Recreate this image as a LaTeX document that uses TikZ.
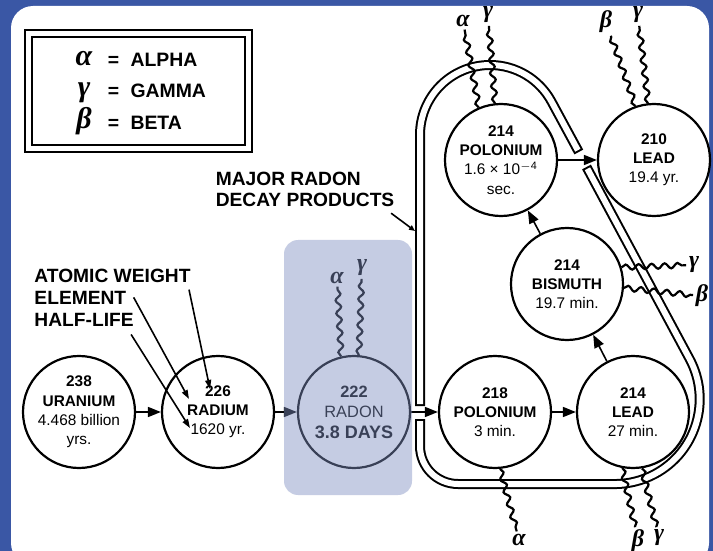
\documentclass[tikz,border=0pt]{standalone}
\usepackage{fontspec}
\setmainfont{Liberation Sans}
\newfontfamily\greekfont{Liberation Serif}
\usetikzlibrary{arrows.meta,decorations.pathmorphing}

\definecolor{frameblue}{RGB}{58,87,165}
\definecolor{shadeblue}{RGB}{128,144,193}

\begin{document}
\begin{tikzpicture}[
        x=0.5pt, y=-0.5pt,
        >={Triangle[length=6.5pt,width=5pt]}, line width=0.8pt,
        nuclide/.style={draw, circle, line width=1.1pt, minimum size=56pt, inner sep=0pt,
                align=center, font=\fontsize{7.7}{9.6}\selectfont},
        wave/.style={line width=1.1pt, decorate,
                decoration={snake, amplitude=1.3pt, segment length=6.5pt}},
        ray/.style={font=\fontsize{12}{12}\selectfont\greekfont\bfseries\itshape, inner sep=1pt},
        keysym/.style={font=\fontsize{15}{15}\selectfont\greekfont\bfseries\itshape, anchor=base, inner sep=0pt},
        keytext/.style={font=\fontsize{9.7}{11}\selectfont\bfseries, anchor=base west, inner sep=0pt},
        note/.style={font=\fontsize{9.6}{11.5}\selectfont\bfseries, anchor=base west},
        pointer/.style={-{Triangle[length=4.5pt,width=3pt]}, line width=0.8pt},
        pipe/.style={line width=5pt,
                postaction={draw=white, line width=3pt, shorten <=1pt, shorten >=1pt}}
    ]
    \useasboundingbox (0,0) rectangle (713,551);
    \fill[frameblue] (0,0) rectangle (713,551);
    \fill[white, rounded corners=11pt] (11,6) rectangle (709,565);

    % key
    \draw[line width=1pt] (25,30) rectangle (252,152);
    \draw[line width=1pt] (32,37) rectangle (245,145);
    \node[keysym] (keya) at (84,66) {α};
    \node[keysym] (keyg) at (84,97) {γ};
    \node[keysym] (keyb) at (84,129) {β};
    \node[keytext] (keyat) at (107,67) {=\hspace{3pt} ALPHA};
    \node[keytext] (keygt) at (107,98) {=\hspace{3pt} GAMMA};
    \node[keytext] (keybt) at (107,130) {=\hspace{3pt} BETA};

    % decay chain
    \node[nuclide] (ura) at (79,412) {\textbf{238}\\\textbf{URANIUM}\\4.468 billion\\yrs.};
    \node[nuclide] (rad) at (218,412) {\textbf{226}\\\textbf{RADIUM}\\1620 yr.};
    \node[nuclide, font=\fontsize{8.2}{10.3}\selectfont] (rn) at (354,412)
        {\textbf{222}\\RADON\\\fontsize{9}{10}\selectfont\textbf{3.8 DAYS}};
    \node[nuclide] (po218) at (495,412) {\textbf{218}\\\textbf{POLONIUM}\\3 min.};
    \node[nuclide] (pb214) at (633,412) {\textbf{214}\\\textbf{LEAD}\\27 min.};
    \node[nuclide] (bi214) at (567,284) {\textbf{214}\\\textbf{BISMUTH}\\19.7 min.};
    \node[nuclide] (po214) at (501,160) {\textbf{214}\\\textbf{POLONIUM}\\1.6 × 10\textsuperscript{$-$4}\\sec.};
    \node[nuclide] (pb210) at (654,160) {\textbf{210}\\\textbf{LEAD}\\19.4 yr.};

    % radon products loop
    \draw[pipe] (420,406) -- (420,135) arc[start angle=180, end angle=331.8, radius=70] -- (578.8,152);
    \draw[pipe] (586.5,167) -- (689.6,358.9) arc[start angle=-28.2, end angle=90, radius=85]
        -- (458,484) arc[start angle=90, end angle=180, radius=38] -- (420,419);

    \draw[->] (ura) -- (rad);
    \draw[->] (rad) -- (rn);
    \draw[->] (rn) -- (po218);
    \draw[->] (po218) -- (pb214);
    \draw[->] (pb214) -- (bi214);
    \draw[->] (bi214) -- (po214);
    \draw[->] (po214) -- (pb210);

    % emitted rays
    \node[ray] (rna) at (337,278) {α};
    \node[ray] (rng) at (362,268) {γ};
    \draw[wave] (rn.103) -- (rna);
    \draw[wave] (rn.85) -- (rng);
    \node[ray] (po218a) at (519,540) {α};
    \draw[wave] (po218.-85) -- (po218a);
    \node[ray] (pb214b) at (638,541) {β};
    \node[ray] (pb214g) at (659,538) {γ};
    \draw[wave] (pb214.-101) -- (pb214b);
    \draw[wave] (pb214.-81) -- (pb214g);
    \node[ray] (bi214g) at (694,265) {γ};
    \node[ray] (bi214b) at (702,296) {β};
    \draw[wave] (bi214.17) -- (bi214g);
    \draw[wave] (bi214.-4) -- (bi214b);
    \node[ray] (po214a) at (463,21) {α};
    \node[ray] (po214g) at (488,15) {γ};
    \draw[wave] (po214.113) -- (po214a);
    \draw[wave] (po214.96) -- (po214g);
    \node[ray] (pb210b) at (606,22) {β};
    \node[ray] (pb210g) at (638,15) {γ};
    \draw[wave] (pb210.109) -- (pb210b);
    \draw[wave] (pb210.96) -- (pb210g);

    % notes
    \node[note, anchor=north west, align=left, inner sep=0pt, font=\fontsize{9.6}{10.5}\selectfont\bfseries]
        (decay) at (215,171) {MAJOR RADON\\DECAY PRODUCTS};
    \coordinate (loopmark) at (415,231);
    \draw[-{Triangle[length=3pt,width=2.5pt]}] ([xshift=-2pt,yshift=-3pt]decay.south east) -- (loopmark);

    \node[note] (atw) at (27,282) {ATOMIC WEIGHT};
    \node[note] (elem) at (27,304) {ELEMENT};
    \node[note] (hl) at (27,327) {HALF-LIFE};
    \coordinate (radwt) at (210,389);
    \coordinate (radel) at (189,399);
    \coordinate (radhl) at (190,428);
    \draw[pointer] ([xshift=-4.5pt]atw.south east) -- (radwt);
    \draw[pointer] (elem.east) -- (radel);
    \draw[pointer] ([xshift=-5pt]hl.south east) -- (radhl);

    % highlight
    \fill[shadeblue, fill opacity=0.45, rounded corners=7pt] (284,240) rectangle (412,495);
\end{tikzpicture}
\end{document}
